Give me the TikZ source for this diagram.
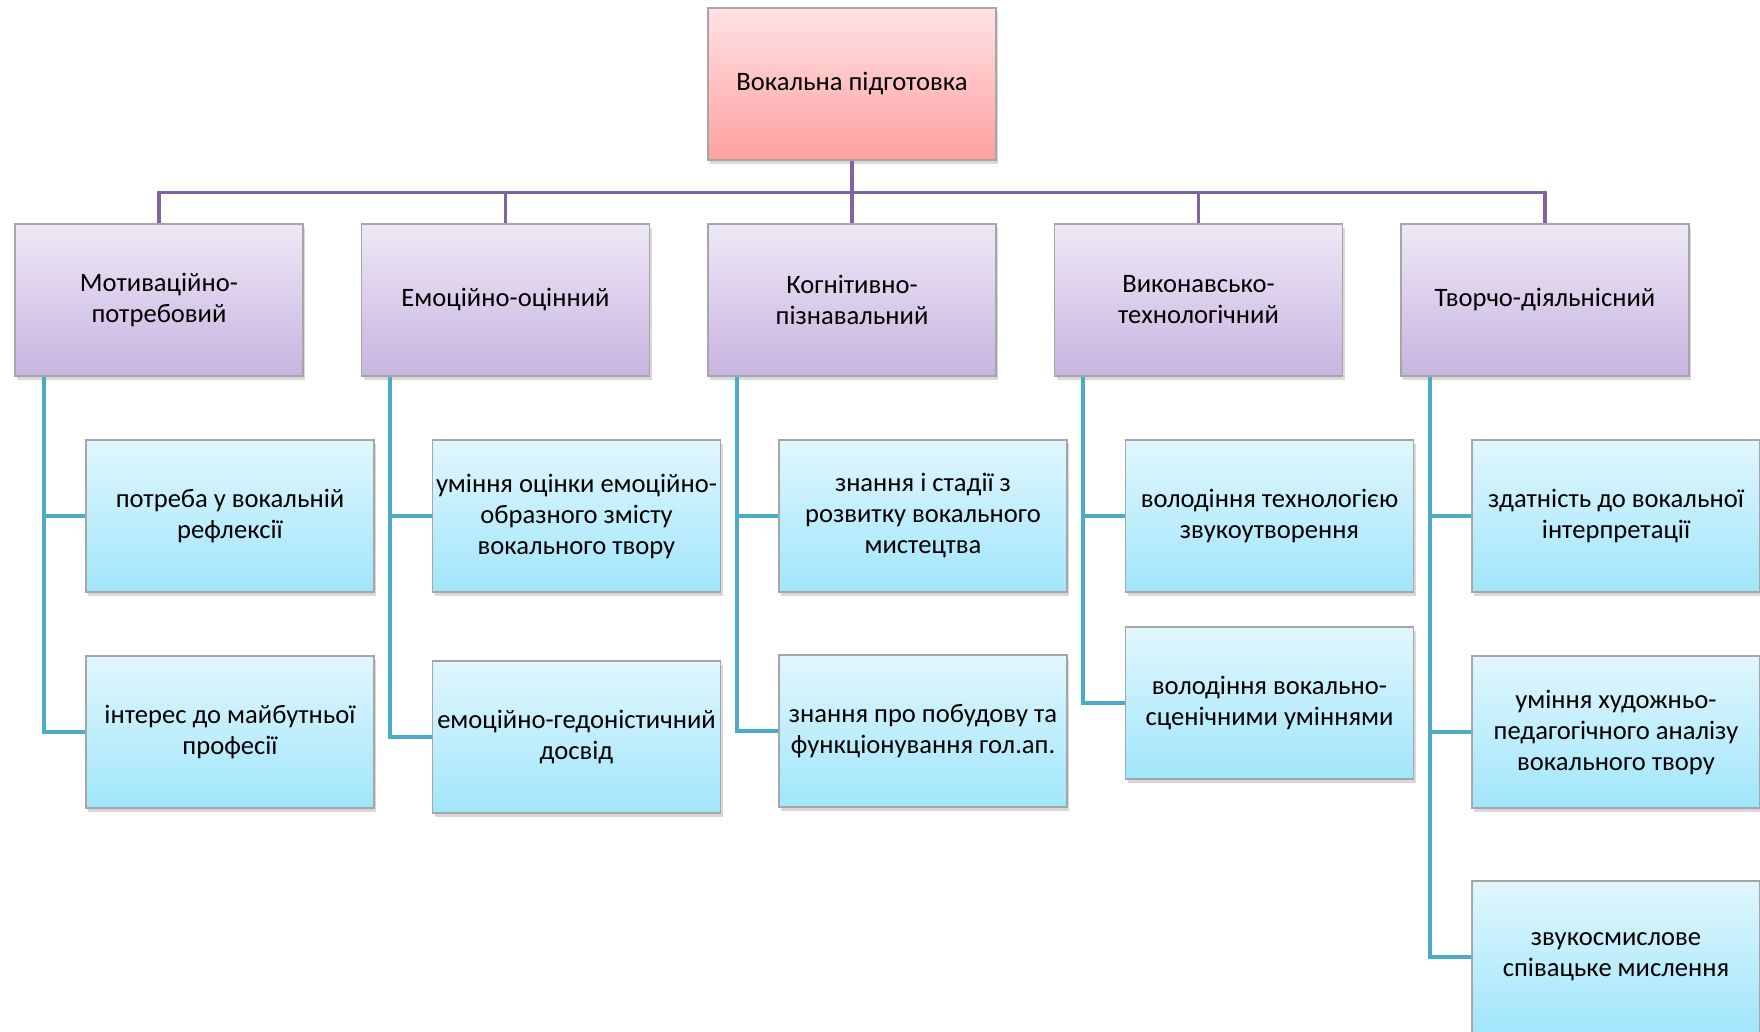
\documentclass[tikz,border=0pt]{standalone}
\usepackage{fontspec}
\setmainfont{Carlito}
\usepackage{tikz}
\usetikzlibrary{positioning,shadows}
\definecolor{trunkcol}{HTML}{8064A2}
\definecolor{branchcol}{HTML}{4BACC6}
\tikzset{
    basebox/.style={
    rectangle,draw=gray!70,line width=0.6pt,minimum width=144pt,minimum height=76pt,
    inner sep=0pt,align=center,font=\fontsize{13.3}{15.5}\selectfont,
    drop shadow={shadow xshift=1pt,shadow yshift=-2pt,opacity=0.3}
    },
    rootbox/.style={
    basebox,top color={rgb,255:red,255;green,226;blue,228},bottom color={rgb,255:red,255;green,160;blue,160}
    },
    groupbox/.style={
    basebox,top color={rgb,255:red,238;green,232;blue,246},bottom color={rgb,255:red,199;green,180;blue,224}
    },
    itembox/.style={
    basebox,top color={rgb,255:red,225;green,246;blue,253},bottom color={rgb,255:red,160;green,230;blue,251}
    },
    trunk/.style={
    draw=trunkcol,line width=1.8pt
    },
    branch/.style={
    draw=branchcol,line width=2pt
    },
}
\begin{document}
\begin{tikzpicture}[x=0.5pt,y=-0.5pt,node distance=173.25pt,on grid]
   \path[use as bounding box,fill=white] (0,0) rectangle (1760,1032);

   \node[groupbox] (cog) at (852,300) {Когнітивно-\\пізнавальний};
   \node[groupbox] (emo) [left=of cog] {Емоційно-оцінний};
   \node[groupbox] (mot) [left=of emo] {Мотиваційно-\\потребовий};
   \node[groupbox] (vyk) [right=of cog] {Виконавсько-\\технологічний};
   \node[groupbox] (tvo) [right=of vyk] {Творчо-діяльнісний};
   \node[rootbox] (root) [above=108pt of cog] {Вокальна підготовка};

   \node[itembox] (mot1) [below right=108pt and 35.5pt of mot] {потреба у вокальній\\рефлексії};
   \node[itembox] (mot2) [below=108pt of mot1] {інтерес до майбутньої\\професії};
   \node[itembox] (emo1) [below right=108pt and 35.5pt of emo] {уміння оцінки емоційно-\\образного змісту\\вокального твору};
   \node[itembox] (emo2) [below=110.5pt of emo1] {емоційно-гедоністичний\\досвід};
   \node[itembox] (cog1) [below right=108pt and 35.5pt of cog] {знання і стадії з\\розвитку вокального\\мистецтва};
   \node[itembox] (cog2) [below=107.5pt of cog1] {знання про побудову та\\функціонування гол.ап.};
   \node[itembox] (vyk1) [below right=108pt and 35.5pt of vyk] {володіння технологією\\звукоутворення};
   \node[itembox] (vyk2) [below=93.5pt of vyk1] {володіння вокально-\\сценічними уміннями};
   \node[itembox] (tvo1) [below right=108pt and 35.5pt of tvo] {здатність до вокальної\\інтерпретації};
   \node[itembox] (tvo2) [below=108pt of tvo1] {уміння художньо-\\педагогічного аналізу\\вокального твору};
   \node[itembox] (tvo3) [below=112.5pt of tvo2] {звукосмислове\\співацьке мислення};

   \foreach \g in {mot,emo,cog,vyk,tvo}
      \draw[trunk] (root.south) -- ++(0,-16pt) -| (\g.north);

   \foreach \g/\k in {mot/mot1,mot/mot2,emo/emo1,emo/emo2,cog/cog1,cog/cog2,vyk/vyk1,vyk/vyk2,tvo/tvo1,tvo/tvo2,tvo/tvo3}
      \draw[branch] ([xshift=14.75pt]\g.south west) |- (\k.west);
\end{tikzpicture}
\end{document}
